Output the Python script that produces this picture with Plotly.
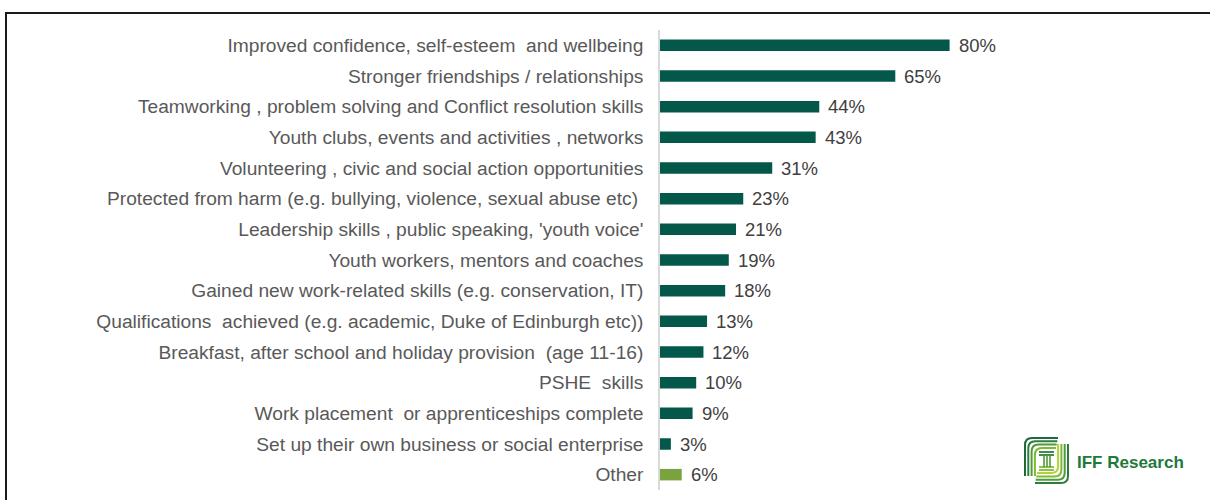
import plotly.graph_objects as go

# Survey outcomes (share of respondents, %)
categories = [
    "Improved confidence, self-esteem  and wellbeing",
    "Stronger friendships / relationships",
    "Teamworking , problem solving and Conflict resolution skills",
    "Youth clubs, events and activities , networks",
    "Volunteering , civic and social action opportunities",
    "Protected from harm (e.g. bullying, violence, sexual abuse etc) ",
    "Leadership skills , public speaking, 'youth voice'",
    "Youth workers, mentors and coaches",
    "Gained new work-related skills (e.g. conservation, IT)",
    "Qualifications  achieved (e.g. academic, Duke of Edinburgh etc))",
    "Breakfast, after school and holiday provision  (age 11-16)",
    "PSHE  skills",
    "Work placement  or apprenticeships complete",
    "Set up their own business or social enterprise",
    "Other",
]
values = [80, 65, 44, 43, 31, 23, 21, 19, 18, 13, 12, 10, 9, 3, 6]

MAIN_GREEN = "#04584a"
OTHER_GREEN = "#7aa33f"
bar_colors = [OTHER_GREEN if c == "Other" else MAIN_GREEN for c in categories]

W, H = 1210, 500
ML, MR, MT, MB = 660, 188, 30, 10
PW, PH = W - ML - MR, H - MT - MB


def px(x):
    return (x - ML) / PW


def py(y):
    return (H - MB - y) / PH


fig = go.Figure(
    go.Bar(
        x=values,
        y=categories,
        orientation="h",
        marker=dict(color=bar_colors, line=dict(width=0)),
        hoverinfo="skip",
    )
)

# value labels at the end of each bar
for c, v in zip(categories, values):
    fig.add_annotation(
        x=v, y=c, xref="x", yref="y",
        text=f"{v}%", showarrow=False,
        xanchor="left", yanchor="middle", xshift=7,
        font=dict(family="Liberation Sans, Arial, sans-serif", size=18.5, color="#404040"),
    )

shapes = []
# frame around the chart (top and left edges visible)
shapes.append(dict(
    type="rect", xref="paper", yref="paper",
    x0=px(6), x1=px(W + 20), y0=py(13), y1=py(H + 20),
    line=dict(color="#1a1a1a", width=2), fillcolor="rgba(0,0,0,0)", layer="above",
))

# IFF Research logo mark
logo_cols = ["#1d6a3b", "#2f7d3c", "#4f9a3a", "#7fba37", "#b3d334"]
r = 7
for i in range(4):
    d = i * 3.3
    # upper-left hook
    x0, y0 = 1025 + d, 438 + d
    path = (f"M {px(1058 - d*0.2)},{py(y0)} L {px(x0 + r)},{py(y0)} "
            f"Q {px(x0)},{py(y0)} {px(x0)},{py(y0 + r)} L {px(x0)},{py(476)}")
    shapes.append(dict(type="path", xref="paper", yref="paper", path=path,
                       line=dict(color=logo_cols[i], width=2)))
    # lower-right hook
    x1, y1 = 1068 - d, 483 - d
    path = (f"M {px(x1)},{py(444)} L {px(x1)},{py(y1 - r)} "
            f"Q {px(x1)},{py(y1)} {px(x1 - r)},{py(y1)} L {px(1035 + d*0.2)},{py(y1)}")
    shapes.append(dict(type="path", xref="paper", yref="paper", path=path,
                       line=dict(color=logo_cols[i + 1], width=2)))
# central "I"
for i, yy in enumerate([452, 455, 467, 470]):
    shapes.append(dict(type="line", xref="paper", yref="paper",
                       x0=px(1039), x1=px(1054), y0=py(yy), y1=py(yy),
                       line=dict(color=logo_cols[1 + i // 2 * 2], width=1.8)))
for xx in [1044, 1047, 1050]:
    shapes.append(dict(type="line", xref="paper", yref="paper",
                       x0=px(xx), x1=px(xx), y0=py(455), y1=py(467),
                       line=dict(color=logo_cols[2], width=1.6)))

fig.add_annotation(
    x=px(1075), y=py(462), xref="paper", yref="paper",
    text="<b>IFF Research</b>", showarrow=False,
    xanchor="left", yanchor="middle",
    font=dict(family="Liberation Sans, Arial, sans-serif", size=17, color="#1e7a3a"),
)

fig.update_layout(
    width=W, height=H,
    margin=dict(l=ML, r=MR, t=MT, b=MB, pad=0),
    paper_bgcolor="white",
    plot_bgcolor="white",
    bargap=0.625,
    showlegend=False,
    shapes=shapes,
    xaxis=dict(range=[0, 100], visible=False, fixedrange=True),
    yaxis=dict(
        categoryorder="array", categoryarray=categories,
        autorange="reversed",
        showline=True, linecolor="#d9d9d9", linewidth=1.5,
        showgrid=False, zeroline=False, ticks="",
        ticklabelstandoff=11,
        automargin=False,
        tickfont=dict(family="Liberation Sans, Arial, sans-serif", size=19.2, color="#595959"),
    ),
)

fig.write_html("out.html")
